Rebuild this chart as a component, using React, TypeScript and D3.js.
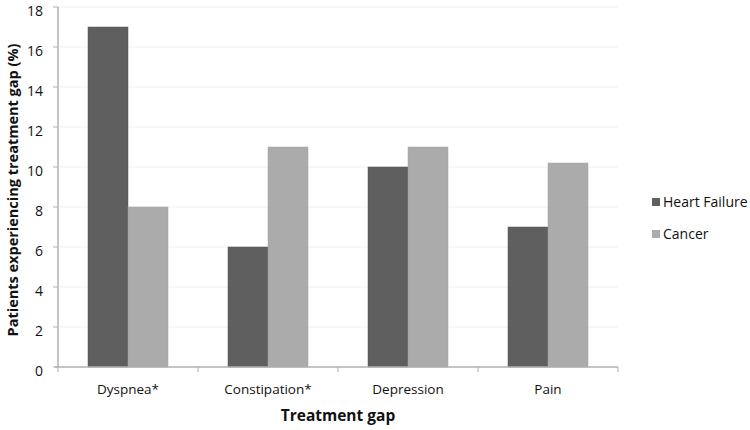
import React from "react";
import * as d3 from "d3";

const categories = ["Dyspnea*", "Constipation*", "Depression", "Pain"];
const heartFailure = [17, 6, 10, 7];
const cancer = [8, 11, 11, 10.2];
const seriesNames = ["Heart Failure", "Cancer"];
const seriesColors = ["#5f5f5f", "#ababab"];
const yTicks = [0, 2, 4, 6, 8, 10, 12, 14, 16, 18];

const W = 750;
const H = 430;
const margin = { left: 58, right: 132, top: 7, bottom: 63 };

export default function App() {
  const x = d3
    .scaleBand<string>()
    .domain(categories)
    .range([margin.left, W - margin.right])
    .paddingInner(0)
    .paddingOuter(0);
  const y = d3.scaleLinear().domain([0, 18]).range([H - margin.bottom, margin.top]);
  const inner = d3.scaleBand<number>().domain([0, 1]).range([0, x.bandwidth()]).paddingInner(0).paddingOuter(0.75);
  const series = [heartFailure, cancer];
  const font = "'Open Sans', 'DejaVu Sans', sans-serif";
  const x0 = margin.left;
  const x1 = W - margin.right;
  const y0 = y(0);

  return (
    <svg width={W} height={H} style={{ position: "absolute", left: 0, top: 0, background: "#fff" }} fontFamily={font}>
      {yTicks.map((t) => (
        <g key={t}>
          {t > 0 && <line x1={x0} x2={x1} y1={y(t)} y2={y(t)} stroke="#f0f0f0" strokeWidth={1} />}
          <line x1={x0 - 5} x2={x0} y1={y(t)} y2={y(t)} stroke="#b0b0b0" strokeWidth={1} />
          <text x={x0 - 15} y={y(t) + 4} dy="0.35em" textAnchor="end" fontSize={14} fill="#111">
            {t}
          </text>
        </g>
      ))}
      {series.map((vals, si) =>
        categories.map((c, ci) => (
          <rect
            key={si + "-" + ci}
            x={(x(c) as number) + (inner(si) as number)}
            y={y(vals[ci])}
            width={inner.bandwidth()}
            height={y0 - y(vals[ci])}
            fill={seriesColors[si]}
            stroke={si === 0 ? "#555" : "#a5a5a5"}
            strokeWidth={0.5}
          />
        ))
      )}
      <line x1={x0} x2={x0} y1={margin.top} y2={y0} stroke="#b0b0b0" strokeWidth={1.5} />
      <line x1={x0 - 3} x2={x1} y1={y0} y2={y0} stroke="#b0b0b0" strokeWidth={1.5} />
      {[...categories.map((c) => x(c) as number), x1].map((tx, i) => (
        <line key={i} x1={tx} x2={tx} y1={y0} y2={y0 + 5} stroke="#b0b0b0" strokeWidth={1} />
      ))}
      {categories.map((c) => (
        <text key={c} x={(x(c) as number) + x.bandwidth() / 2} y={y0 + 27} textAnchor="middle" fontSize={13.5} fill="#111">
          {c}
        </text>
      ))}
      <text x={(x0 + x1) / 2} y={H - 9} textAnchor="middle" fontSize={15.5} fontWeight="bold" fill="#111">
        Treatment gap
      </text>
      <text
        transform={`translate(18, ${(margin.top + y0) / 2 + 3}) rotate(-90)`}
        textAnchor="middle"
        fontSize={14.5}
        fontWeight="bold"
        fill="#111"
      >
        Patients experiencing treatment gap (%)
      </text>
      {seriesNames.map((n, i) => (
        <g key={n} transform={`translate(652, ${198 + i * 32})`}>
          <rect x={0} y={0} width={8} height={8} fill={seriesColors[i]} />
          <text x={11} y={4} dy="0.35em" fontSize={14} fill="#111">
            {n}
          </text>
        </g>
      ))}
    </svg>
  );
}
